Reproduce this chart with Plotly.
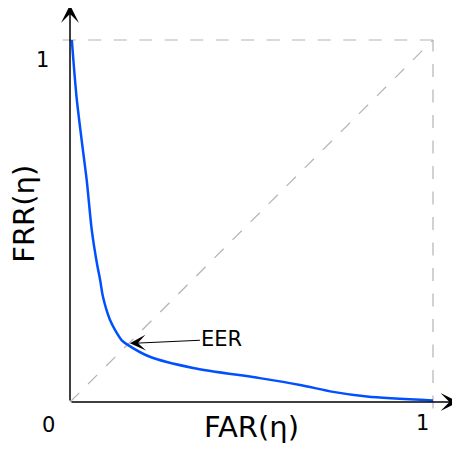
import plotly.graph_objects as go

# ---- data ----
far = [0.005, 0.018, 0.032, 0.046, 0.060, 0.074, 0.083, 0.091, 0.110, 0.124,
       0.142, 0.156, 0.220, 0.339, 0.523, 0.634, 0.725, 0.818, 1.0]
frr = [1.0, 0.843, 0.724, 0.613, 0.475, 0.384, 0.337, 0.290, 0.227, 0.199,
       0.171, 0.160, 0.125, 0.094, 0.066, 0.047, 0.028, 0.015, 0.004]
diag_x = [0, 1]
diag_y = [0, 1]
top_x = [-0.02, 1]
top_y = [1, 1]
right_x = [1, 1]
right_y = [-0.018, 1]
eer_point = (0.165, 0.162)
x_tick_labels = ["0", "1"]
y_tick_labels = ["1"]

FONT = "DejaVu Sans"
GRAY = "#b4b4b4"
DASH = "13px,12.5px"

fig = go.Figure()
for xs, ys in [(top_x, top_y), (right_x, right_y), (diag_x, diag_y)]:
    fig.add_trace(go.Scatter(x=xs, y=ys, mode="lines",
                             line=dict(color=GRAY, width=1.2, dash=DASH),
                             hoverinfo="skip", cliponaxis=False))
fig.add_trace(go.Scatter(x=far, y=frr, mode="lines",
                         line=dict(color="#0050ff", width=2.5, shape="spline", smoothing=0.8),
                         cliponaxis=False))

# page has an 8px body margin; figure is 452x442 starting at (8,8)
W, H = 452, 442
XMIN, XMAX = -62 / 363, (W - 62) / 363
YMIN, YMAX = -(H - 394) / 362, 394 / 362

ann = []
# axes arrows
ann.append(dict(x=XMAX - 0.004, y=0, ax=0, ay=0, xref="x", yref="y", axref="x", ayref="y",
                text="", showarrow=True, arrowhead=3, arrowsize=2.0, arrowwidth=1.5,
                arrowcolor="black", standoff=0))
ann.append(dict(x=0, y=(402 - 5) / 362, ax=0, ay=0, xref="x", yref="y", axref="x", ayref="y",
                text="", showarrow=True, arrowhead=3, arrowsize=2.0, arrowwidth=1.5,
                arrowcolor="black", standoff=0))
# EER annotation
ann.append(dict(x=eer_point[0], y=eer_point[1], xref="x", yref="y",
                text="EER", showarrow=True, arrowhead=3, arrowsize=2.4, arrowwidth=1.1,
                arrowcolor="black", ax=92, ay=-4, standoff=0,
                font=dict(family=FONT, size=21, color="black")))
# tick labels
ann.append(dict(x=-0.0579, y=-0.0622, xref="x", yref="y", text=x_tick_labels[0],
                showarrow=False, font=dict(family=FONT, size=21, color="black")))
ann.append(dict(x=0.971, y=-0.058, xref="x", yref="y", text=x_tick_labels[1],
                showarrow=False, font=dict(family=FONT, size=21, color="black")))
ann.append(dict(x=-0.0758, y=0.945, xref="x", yref="y", text=y_tick_labels[0],
                showarrow=False, font=dict(family=FONT, size=21, color="black")))
# axis titles
ann.append(dict(x=0.5, y=-0.069, xref="x", yref="y", text="FAR(η)",
                showarrow=False, font=dict(family=FONT, size=29, color="black")))
ann.append(dict(x=-0.1287, y=0.5207, xref="x", yref="y", text="FRR(η)", textangle=-90,
                showarrow=False, font=dict(family=FONT, size=29, color="black")))

fig.update_layout(
    width=W, height=H,
    margin=dict(l=0, r=0, t=0, b=0, autoexpand=False),
    paper_bgcolor="white", plot_bgcolor="white",
    showlegend=False,
    xaxis=dict(range=[XMIN, XMAX], visible=False, fixedrange=True),
    yaxis=dict(range=[YMIN, YMAX], visible=False, fixedrange=True),
    annotations=ann,
)

fig.write_html("out.html")
